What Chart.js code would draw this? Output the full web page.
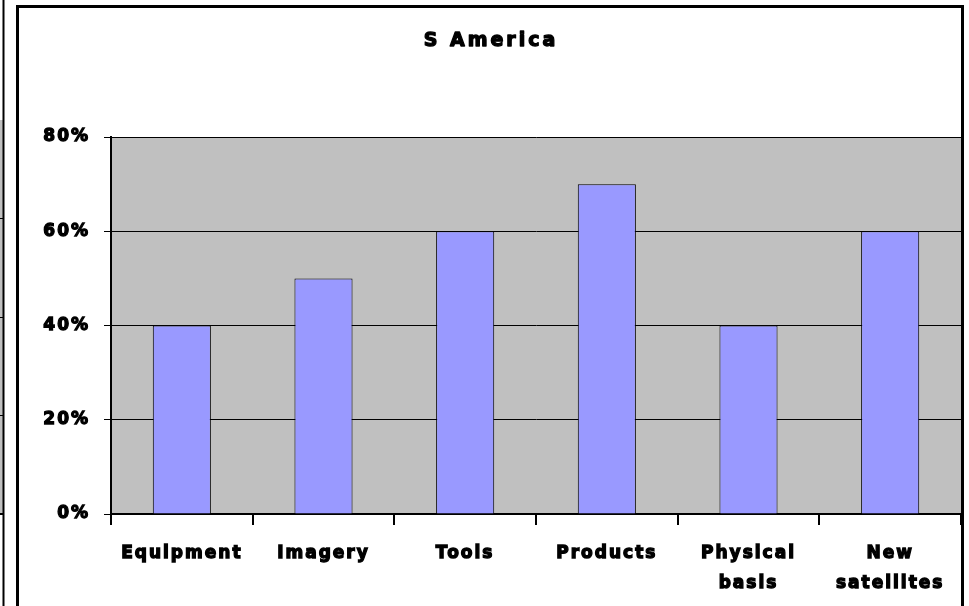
<!DOCTYPE html>
<html>
<head>
<meta charset="utf-8">
<script src="https://cdn.jsdelivr.net/npm/chart.js@4/dist/chart.umd.min.js"></script>
<style>
html,body{margin:0;padding:0;background:#fff;}
#wrap{width:969px;height:606px;position:relative;}
</style>
</head>
<body>
<div id="wrap"><canvas id="c" width="969" height="606"></canvas></div>
<script>
const titleText = 'S America';
const categories = ['Equipment', 'Imagery', 'Tools', 'Products', ['Physical', 'basis'], ['New', 'satellites']];
const values = [40, 50, 60, 70, 40, 60];
const yTicks = [0, 20, 40, 60, 80];

const FONT = '"DejaVu Sans", sans-serif';
const SPACING = '2px';

const decor = {
  id: 'decor',
  beforeUpdate(chart) { chart.ctx.letterSpacing = SPACING; },
  beforeLayout(chart) { chart.ctx.letterSpacing = SPACING; },
  beforeDraw(chart) {
    const ctx = chart.ctx, a = chart.chartArea;
    ctx.letterSpacing = SPACING;
    ctx.save();
    ctx.fillStyle = '#fff';
    ctx.fillRect(0, 0, chart.width, chart.height);
    ctx.fillStyle = '#c0c0c0';
    ctx.fillRect(a.left, a.top, a.right - a.left, a.bottom - a.top);
    // fragment of neighbouring chart at far left
    ctx.fillRect(0, 120, 3, 394);
    ctx.strokeStyle = '#000';
    ctx.lineWidth = 1;
    [218.5, 317.5, 415.5].forEach(y => { ctx.beginPath(); ctx.moveTo(0, y); ctx.lineTo(3, y); ctx.stroke(); });
    ctx.lineWidth = 2;
    ctx.beginPath(); ctx.moveTo(0, 514); ctx.lineTo(4, 514); ctx.stroke();
    ctx.beginPath(); ctx.moveTo(3.5, 0); ctx.lineTo(3.5, 606); ctx.stroke();
    ctx.restore();
  },
  afterDraw(chart) {
    const ctx = chart.ctx;
    ctx.save();
    // title
    ctx.letterSpacing = '3px';
    ctx.font = 'bold 19px ' + FONT;
    ctx.textAlign = 'center';
    ctx.textBaseline = 'alphabetic';
    ctx.fillStyle = '#000';
    ctx.strokeStyle = '#000';
    ctx.lineWidth = 1.3;
    ctx.lineJoin = 'round';
    ctx.fillText(titleText, 491, 46);
    ctx.strokeText(titleText, 491, 46);
    // outer frame
    ctx.lineWidth = 3;
    ctx.lineJoin = 'miter';
    ctx.beginPath();
    ctx.moveTo(17.5, 620); ctx.lineTo(17.5, 6.5); ctx.lineTo(962.5, 6.5); ctx.lineTo(962.5, 620);
    ctx.stroke();
    ctx.restore();
  }
};

new Chart(document.getElementById('c'), {
  type: 'bar',
  data: {
    labels: categories,
    datasets: [{
      data: values,
      backgroundColor: '#9999ff',
      borderColor: '#000',
      borderWidth: 1,
      barPercentage: 0.41,
      categoryPercentage: 1.0
    }]
  },
  options: {
    responsive: false,
    animation: false,
    devicePixelRatio: 1,
    layout: { padding: { left: 0, right: 8, top: 137, bottom: 0 } },
    plugins: {
      legend: { display: false },
      tooltip: { enabled: false },
      title: { display: false }
    },
    scales: {
      x: {
        offset: true,
        border: { display: true, color: '#000', width: 2 },
        grid: { display: true, drawOnChartArea: false, drawTicks: true, tickLength: 11, color: '#000', lineWidth: 2, offset: true },
        ticks: {
          color: '#000',
          textStrokeColor: '#000',
          textStrokeWidth: 1.3,
          font: { family: FONT, size: 17, weight: 'bold', lineHeight: 1.75 },
          padding: 14,
          maxRotation: 0,
          autoSkip: false
        },
        afterFit(scale) { scale.height = 92; }
      },
      y: {
        min: 0,
        max: 80,
        border: { display: true, color: '#000', width: 2 },
        grid: { color: '#000', lineWidth: 1, drawTicks: true, tickLength: 7 },
        afterBuildTicks(scale) { scale.ticks = yTicks.map(v => ({ value: v })); },
        ticks: {
          color: '#000',
          textStrokeColor: '#000',
          textStrokeWidth: 1.3,
          font: { family: FONT, size: 17, weight: 'bold' },
          padding: 14,
          callback: v => v + '%'
        },
        afterFit(scale) { scale.width = 111; }
      }
    }
  },
  plugins: [decor]
});
</script>
</body>
</html>
